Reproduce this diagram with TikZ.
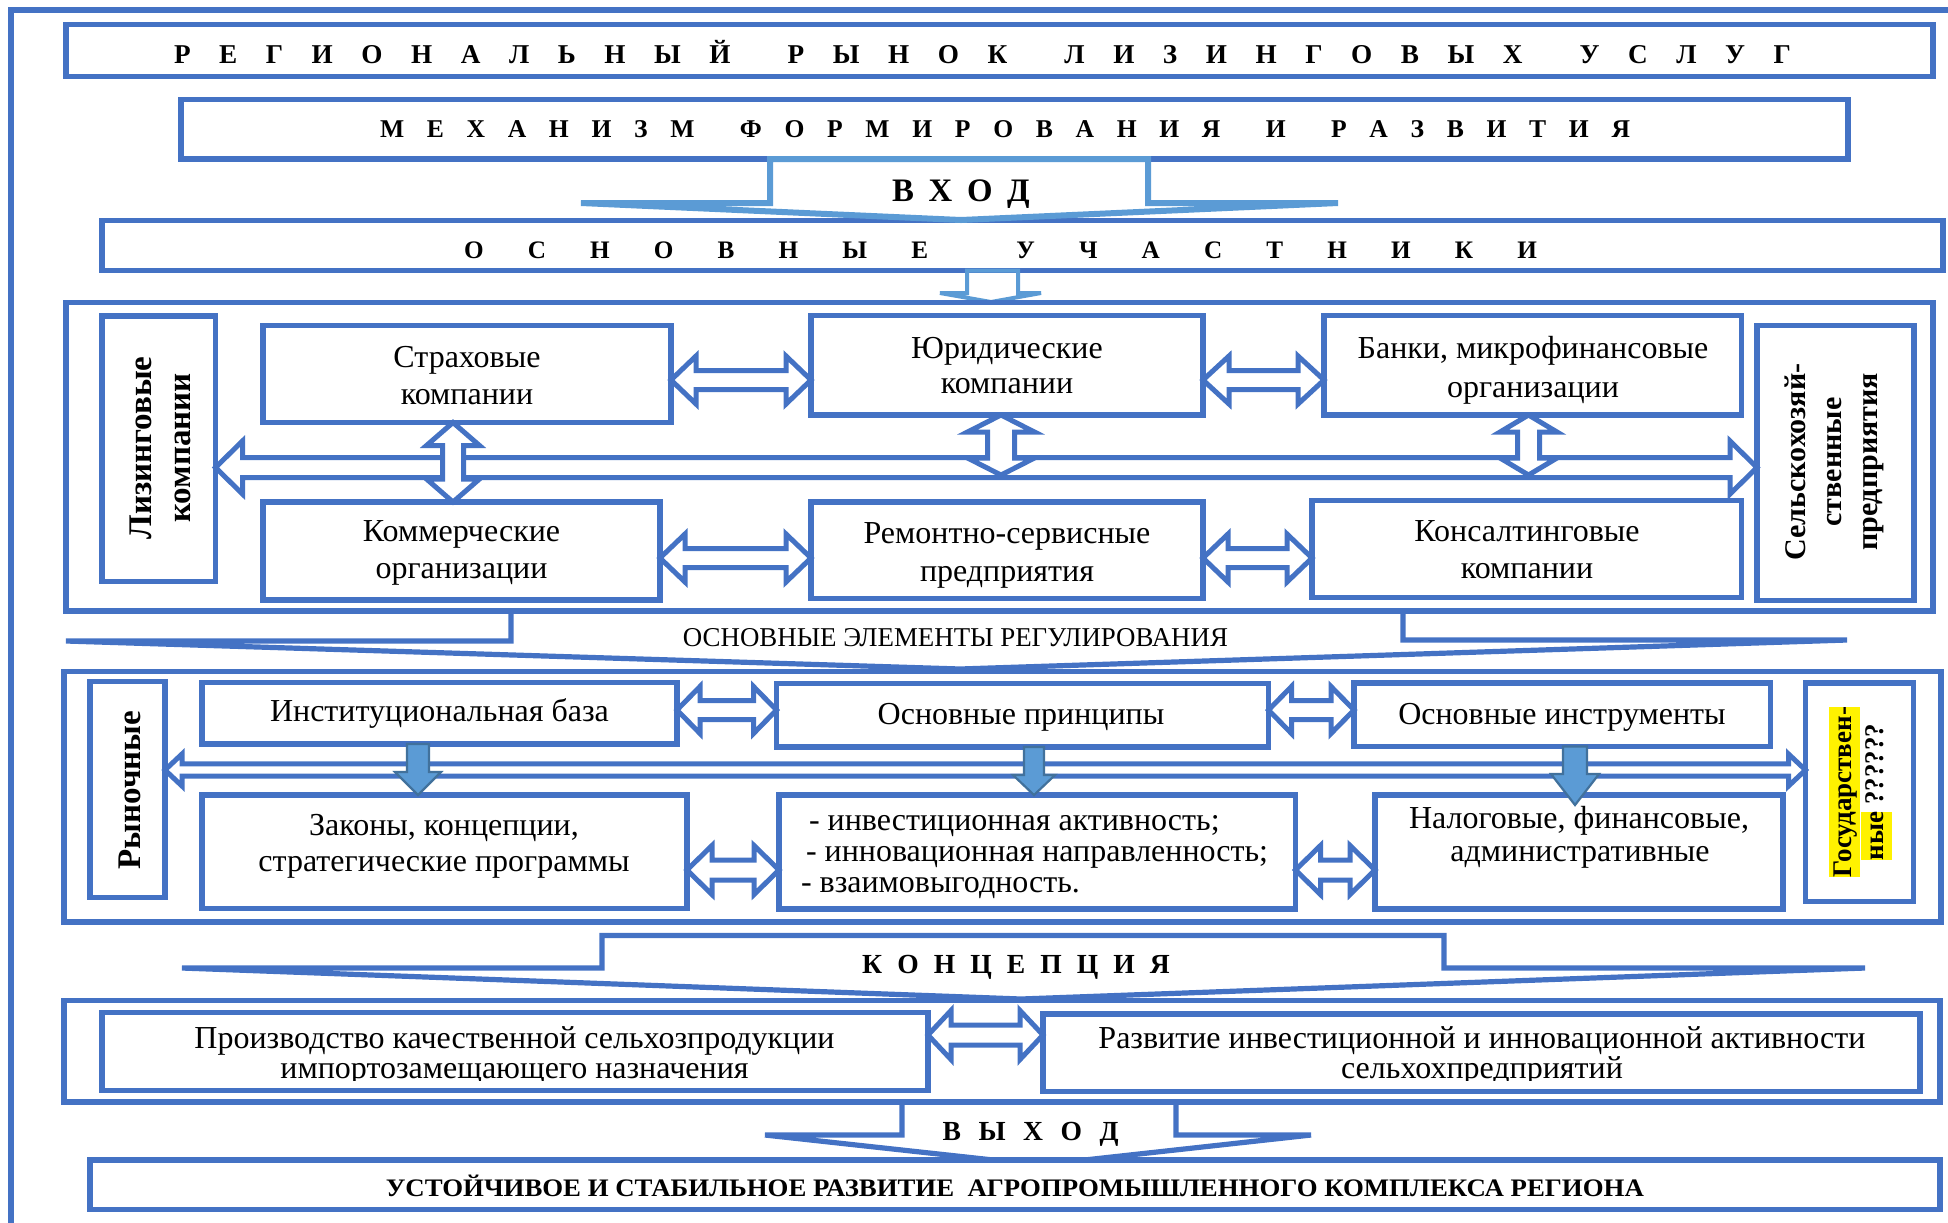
\documentclass[tikz,border=0pt]{standalone}
\usepackage{fontspec}
\setmainfont{Liberation Serif}
\usepackage{graphicx}
\usetikzlibrary{fit,calc}
\definecolor{boxblue}{HTML}{4472C4}
\definecolor{lightblue}{HTML}{5B9BD5}
\definecolor{darkblue}{HTML}{41719C}
\newcommand\fsz[2]{\fontsize{#1}{#2}\selectfont}
\newcommand\hlite[1]{{\setlength{\fboxsep}{0pt}\colorbox{yellow}{\rule[-3.9pt]{0pt}{15.5pt}#1}}}
% horizontal double arrow: left anchor, right anchor, y, body half, head half, head length, style
\newcommand\hdarrow[7]{\draw[#7] let \p1=(#1), \p2=(#2), \p3=(0,#3) in
  (\x1,\y3) -- ({\x1+#6*0.5pt},{\y3+#5*0.5pt}) -- ({\x1+#6*0.5pt},{\y3+#4*0.5pt})
  -- ({\x2-#6*0.5pt},{\y3+#4*0.5pt}) -- ({\x2-#6*0.5pt},{\y3+#5*0.5pt}) -- (\x2,\y3)
  -- ({\x2-#6*0.5pt},{\y3-#5*0.5pt}) -- ({\x2-#6*0.5pt},{\y3-#4*0.5pt})
  -- ({\x1+#6*0.5pt},{\y3-#4*0.5pt}) -- ({\x1+#6*0.5pt},{\y3-#5*0.5pt}) -- cycle;}
% vertical double arrow: top anchor, bottom anchor, x, body half, head half, head length, style
\newcommand\vdarrow[7]{\draw[#7] let \p1=(#1), \p2=(#2), \p3=(#3,0) in
  (\x3,\y1) -- ({\x3+#5*0.5pt},{\y1-#6*0.5pt}) -- ({\x3+#4*0.5pt},{\y1-#6*0.5pt})
  -- ({\x3+#4*0.5pt},{\y2+#6*0.5pt}) -- ({\x3+#5*0.5pt},{\y2+#6*0.5pt}) -- (\x3,\y2)
  -- ({\x3-#5*0.5pt},{\y2+#6*0.5pt}) -- ({\x3-#4*0.5pt},{\y2+#6*0.5pt})
  -- ({\x3-#4*0.5pt},{\y1-#6*0.5pt}) -- ({\x3-#5*0.5pt},{\y1-#6*0.5pt}) -- cycle;}
% single down arrow
\newcommand\downarr[7]{\draw[#7] let \p1=(#1), \p2=(#2), \p3=(#3,0) in
  ({\x3-#4*0.5pt},\y1) -- ({\x3-#4*0.5pt},{\y2+#6*0.5pt}) -- ({\x3-#5*0.5pt},{\y2+#6*0.5pt})
  -- (\x3,\y2) -- ({\x3+#5*0.5pt},{\y2+#6*0.5pt}) -- ({\x3+#4*0.5pt},{\y2+#6*0.5pt})
  -- ({\x3+#4*0.5pt},\y1) -- cycle;}
\tikzset{
  box/.style={draw=boxblue, line width=2.6pt, inner sep=0pt, outer sep=0pt, fill=white},
  tl/.style={anchor=base, inner sep=0pt, outer sep=0pt, font=\fsz{16}{18.5}},
  tlw/.style={anchor=base west, inner sep=0pt, outer sep=0pt, font=\fsz{16}{16}},
  vtxt/.style={inner sep=0pt, align=center, rotate=90, font=\bfseries\fsz{16.5}{19.5}},
  hdr/.style={anchor=base, inner sep=0pt, outer sep=0pt},
  dbl/.style={draw=boxblue, line width=2.5pt, fill=white, line join=miter},
  bracket/.style={draw=boxblue, line width=2.6pt, line join=miter},
  lbracket/.style={draw=lightblue, line width=3pt, line join=miter},
  downar/.style={draw=darkblue, fill=lightblue, line width=1.1pt, line join=miter},
  frame/.style={draw=boxblue, line width=3pt}
}
\begin{document}
\begin{tikzpicture}[x=0.5pt,y=-0.5pt]
\useasboundingbox (0,0) rectangle (1948,1222);
\clip (0,0) rectangle (1948,1222);
% outer frame
\draw[frame] (11,1300) -- (11,10.3) -- (2000,10.3);

% ---- title and mechanism
\node[box, fit={(66,24.5) (1933,76.5)}] (title) {};
\node[hdr, font=\bfseries\fsz{13.6}{16}] (titleT) at (982.5,63) {\hbox to 808.5pt{Р\hfill Е\hfill Г\hfill И\hfill О\hfill Н\hfill А\hfill Л\hfill Ь\hfill Н\hfill Ы\hfill Й\hfill\hfill Р\hfill Ы\hfill Н\hfill О\hfill К\hfill\hfill Л\hfill И\hfill З\hfill И\hfill Н\hfill Г\hfill О\hfill В\hfill Ы\hfill Х\hfill\hfill У\hfill С\hfill Л\hfill У\hfill Г}};
\node[box, fit={(181,99.5) (1848,159)}] (mech) {};
\node[hdr, font=\bfseries\fsz{12.8}{15}] (mechT) at (1005,137) {\hbox to 625pt{М\hfill Е\hfill Х\hfill А\hfill Н\hfill И\hfill З\hfill М\hfill\hfill Ф\hfill О\hfill Р\hfill М\hfill И\hfill Р\hfill О\hfill В\hfill А\hfill Н\hfill И\hfill Я\hfill\hfill И\hfill\hfill Р\hfill А\hfill З\hfill В\hfill И\hfill Т\hfill И\hfill Я}};

% ---- participants heading
\node[box, fit={(102,220.5) (1943,270.5)}] (uch) {};
\node[hdr, font=\bfseries\fsz{12.6}{15}] (uchT) at (1000.5,258) {\hbox to 536.5pt{О\hfill С\hfill Н\hfill О\hfill В\hfill Н\hfill Ы\hfill Е\hfill\hfill У\hfill Ч\hfill А\hfill С\hfill Т\hfill Н\hfill И\hfill К\hfill И}};
% input arrow
\draw[lbracket] (770,159) -- (1148,159) -- (1148,203) -- (1338,203) -- (961,220) -- (581,203) -- (770,203) -- cycle;
\node[hdr, font=\bfseries\fsz{16.4}{19}] (inT) at (961,201.5) {\hbox to 68.8pt{В\hfill Х\hfill О\hfill Д}};
\draw[draw=lightblue, line width=2pt, line join=miter] (967,270.5) -- (967,293) -- (940,293) -- (991,302) -- (1041,293) -- (1018,293) -- (1018,270.5) -- cycle;

% ---- participants block
\node[box, fit={(66,302.5) (1933,611)}] (part) {};
\node[box, fit={(102,316) (215.5,581.5)}] (lizing) {};
\node[vtxt] (lizingT) at (160,448) {Лизинговые\\компании};
\node[box, fit={(1757,325.5) (1914,600.5)}] (selhoz) {};
\node[vtxt, font=\bfseries\fsz{15}{18}] (selhozT) at (1834,462) {Сельскохозяй-\\ственные\\предприятия};
\node[box, fit={(263,325.5) (671,422.5)}] (strah) {};
\node[box, fit={(263,502) (660,600)}] (komm) {};
\node[box, fit={(811,315.5) (1203,415)}] (jur) {};
\node[box, fit={(811,502) (1203,598.5)}] (remont) {};
\node[box, fit={(1324,315.5) (1741.5,415)}] (bank) {};
\node[box, fit={(1312,500.5) (1741.5,597.5)}] (konsalt) {};
\node[tl] (strahT1) at (467,367) {Страховые};
\node[tl] (strahT2) at (467,404) {компании};
\node[tl] (jurT1) at (1007,358) {Юридические};
\node[tl] (jurT2) at (1007,393) {компании};
\node[tl] (bankT1) at (1533,358) {Банки, микрофинансовые};
\node[tl] (bankT2) at (1533,397) {организации};
\node[tl] (kommT1) at (461.5,541.7) {Коммерческие};
\node[tl] (kommT2) at (461.5,578.3) {организации};
\node[tl] (remT1) at (1007,543) {Ремонтно-сервисные};
\node[tl] (remT2) at (1007,581.7) {предприятия};
\node[tl] (konsT1) at (1527,541.7) {Консалтинговые};
\node[tl] (konsT2) at (1527,578.3) {компании};
\hdarrow{lizing.east}{selhoz.west}{467.5}{10}{26.5}{27}{dbl}
\vdarrow{strah.south}{komm.north}{453}{10.5}{26.5}{23}{dbl}
\coordinate (jurB) at (1001,475);
\vdarrow{jur.south}{jurB}{1001}{13.5}{33.5}{17}{dbl}
\coordinate (bankB) at (1528.5,475);
\vdarrow{bank.south}{bankB}{1528.5}{11}{28.5}{17}{dbl}
\hdarrow{strah.east}{jur.west}{380}{9.5}{24}{25}{dbl}
\hdarrow{jur.east}{bank.west}{380}{9.5}{24}{26}{dbl}
\hdarrow{komm.east}{remont.west}{558}{9.5}{24}{25}{dbl}
\hdarrow{remont.east}{konsalt.west}{558}{9.5}{24}{25}{dbl}

% ---- regulation heading arrow
\draw[bracket] (511,611) -- (1403,611) -- (1403,640) -- (1847,640) -- (960,669) -- (66,641) -- (511,641) -- cycle;
\node[hdr, font=\fsz{13.6}{16}] (elemT) at (955.5,646.7) {\resizebox{272.5pt}{\height}{ОСНОВНЫЕ ЭЛЕМЕНТЫ РЕГУЛИРОВАНИЯ}};

% ---- regulation block
\node[box, fit={(64,671.5) (1941,922)}] (reg) {};
\node[box, fit={(90,681.5) (165,897.5)}] (rynok) {};
\node[vtxt] (rynokT) at (130,790) {Рыночные};
\node[box, fit={(1805.5,683) (1913.5,901.5)}] (gos) {};
\node[vtxt, font=\bfseries\fsz{13.5}{16}] (gosT) at (1860,792) {\hlite{Государствен-}\\\hlite{ные} ??????};
\node[box, fit={(202,682.5) (677,744)}] (inst) {};
\node[box, fit={(202,795) (687,908.5)}] (zakon) {};
\node[box, fit={(776.5,683.5) (1268.5,747)}] (princ) {};
\node[box, fit={(779,795) (1295.5,909)}] (list) {};
\node[box, fit={(1354,683) (1770.5,746.5)}] (instr) {};
\node[box, fit={(1375,795) (1783,909)}] (nalog) {};
\node[tl] (instT) at (439.5,721.5) {Институциональная база};
\node[tl] (princT) at (1021,724) {Основные принципы};
\node[tl] (instrT) at (1562,724) {Основные инструменты};
\node[tl] (zakonT1) at (444,835) {Законы, концепции,};
\node[tl] (zakonT2) at (444,871.7) {стратегические программы};
\node[tlw] (listT1) at (809,830) {- инвестиционная активность;};
\node[tlw] (listT2) at (806,861) {- инновационная направленность;};
\node[tlw] (listT3) at (801,892) {- взаимовыгодность.};
\node[tl] (nalogT1) at (1579,828.3) {Налоговые, финансовые,};
\node[tl] (nalogT2) at (1580,861.7) {административные};
\hdarrow{rynok.east}{gos.west}{770}{6.2}{16}{17}{dbl}
\hdarrow{inst.east}{princ.west}{710}{9.5}{23.5}{23}{dbl}
\hdarrow{princ.east}{instr.west}{710}{9.5}{23.5}{23}{dbl}
\hdarrow{zakon.east}{list.west}{870}{10}{24.5}{25}{dbl}
\hdarrow{list.east}{nalog.west}{870}{10}{24.5}{25}{dbl}
\downarr{inst.south}{zakon.north}{418}{11}{23}{23}{downar}
\downarr{princ.south}{list.north}{1034}{10}{21}{20}{downar}
\coordinate (nalTip) at (1575,805);
\downarr{instr.south}{nalTip}{1575}{12}{24}{31}{downar}

% ---- concept heading arrow
\draw[bracket] (602,935.5) -- (1444,935.5) -- (1444,968) -- (1865,968) -- (1021,999) -- (182,968) -- (602,968) -- cycle;
\node[hdr, font=\bfseries\fsz{13.8}{16}] (concT) at (1016,973) {\hbox to 153.8pt{К\hfill О\hfill Н\hfill Ц\hfill Е\hfill П\hfill Ц\hfill И\hfill Я}};

% ---- concept block
\node[box, fit={(64,1000.5) (1940,1102)}] (conc) {};
\node[box, fit={(102,1012.5) (928,1090.5)}] (proizv) {};
\node[box, fit={(1043,1014) (1920,1091.5)}] (razv) {};
\begin{scope}
\clip (100,1010) rectangle (1925,1080);
\node[tl] (proizvT1) at (514.5,1048) {Производство качественной сельхозпродукции};
\node[tl] (proizvT2) at (514.5,1078) {импортозамещающего назначения};
\node[tl] (razvT1) at (1482,1048) {Развитие инвестиционной и инновационной активности};
\node[tl] (razvT2) at (1482,1078) {сельхохпредприятий};
\end{scope}
\hdarrow{proizv.east}{razv.west}{1035}{10}{24.5}{23}{dbl}

% ---- output arrow
\draw[bracket] (902,1102) -- (1176,1102) -- (1176,1135) -- (1311,1135) -- (1039,1165) -- (765,1135) -- (902,1135) -- cycle;
\node[hdr, font=\bfseries\fsz{13.8}{16}] (outT) at (1030.6,1140) {\hbox to 88pt{В\hfill Ы\hfill Х\hfill О\hfill Д}};

% ---- final box
\node[box, fit={(90,1160) (1940,1209.5)}] (final) {};
\node[hdr, font=\bfseries\fsz{12.6}{15}] (finalT) at (1014.8,1196.7) {\resizebox{629pt}{\height}{УСТОЙЧИВОЕ И СТАБИЛЬНОЕ РАЗВИТИЕ\ \ АГРОПРОМЫШЛЕННОГО КОМПЛЕКСА РЕГИОНА}};
\end{tikzpicture}
\end{document}
